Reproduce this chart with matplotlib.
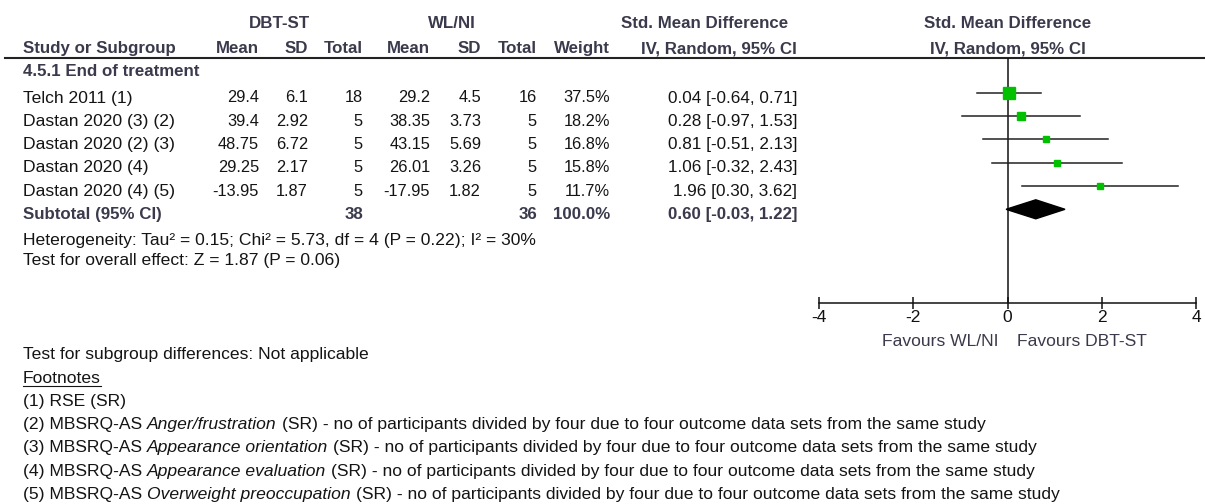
import matplotlib
matplotlib.use("Agg")
import matplotlib.pyplot as plt
from matplotlib.patches import Polygon

plt.rcParams["font.family"] = ["Liberation Sans", "DejaVu Sans"]
plt.rcParams["axes.unicode_minus"] = False

# Study level data
studies = ["Telch 2011 (1)", "Dastan 2020 (3) (2)", "Dastan 2020 (2) (3)",
           "Dastan 2020 (4)", "Dastan 2020 (4) (5)"]
dbt_mean = [29.4, 39.4, 48.75, 29.25, -13.95]
dbt_sd = [6.1, 2.92, 6.72, 2.17, 1.87]
dbt_n = [18, 5, 5, 5, 5]
wl_mean = [29.2, 38.35, 43.15, 26.01, -17.95]
wl_sd = [4.5, 3.73, 5.69, 3.26, 1.82]
wl_n = [16, 5, 5, 5, 5]
weights = [37.5, 18.2, 16.8, 15.8, 11.7]
smd = [0.04, 0.28, 0.81, 1.06, 1.96]
ci_lo = [-0.64, -0.97, -0.51, -0.32, 0.30]
ci_hi = [0.71, 1.53, 2.13, 2.43, 3.62]

# Pooled estimate
pooled = 0.60
pooled_lo = -0.03
pooled_hi = 1.22
total_dbt = 38
total_wl = 36

axis_ticks = [-4, -2, 0, 2, 4]

heterogeneity = "Heterogeneity: Tau\u00b2 = 0.15; Chi\u00b2 = 5.73, df = 4 (P = 0.22); I\u00b2 = 30%"
overall = "Test for overall effect: Z = 1.87 (P = 0.06)"
subgroup = "Test for subgroup differences: Not applicable"
tail = " (SR) - no of participants divided by four due to four outcome data sets from the same study"
footnotes = [
    [("(1) RSE (SR)", "normal")],
    [("(2) MBSRQ-AS ", "normal"), ("Anger/frustration", "italic"), (tail, "normal")],
    [("(3) MBSRQ-AS ", "normal"), ("Appearance orientation", "italic"), (tail, "normal")],
    [("(4) MBSRQ-AS ", "normal"), ("Appearance evaluation", "italic"), (tail, "normal")],
    [("(5) MBSRQ-AS ", "normal"), ("Overweight preoccupation", "italic"), (tail, "normal")],
]

W, H = 1205, 504
HDR = "#3a3a4c"
TXT = "#141414"
FS = 12.6      # running text
FS_NUM = 11.8  # numeric columns
FS_CI = 12.3
FS_B = 12.2

fig = plt.figure(figsize=(W / 100, H / 100), dpi=100)
fig.patch.set_facecolor("white")

# text layer in pixel coordinates (y grows downwards)
tx = fig.add_axes([0, 0, 1, 1])
tx.set_xlim(0, W)
tx.set_ylim(H, 0)
tx.axis("off")

LEFT = 23
cols = [259, 308, 363, 430, 481, 537, 610, 797]


def put(x, y, s, ha="left", bold=False, color=TXT, size=None, style="normal"):
    return tx.text(x, y, s, ha=ha, va="baseline", color=color,
                   fontsize=size or (FS_B if bold else FS),
                   fontweight="bold" if bold else "normal", fontstyle=style)


# header
put(279, 27.5, "DBT-ST", ha="center", bold=True, color=HDR)
put(452, 27.5, "WL/NI", ha="center", bold=True, color=HDR)
put(705, 27.5, "Std. Mean Difference", ha="center", bold=True, color=HDR)
put(1008, 27.5, "Std. Mean Difference", ha="center", bold=True, color=HDR)
put(LEFT, 53, "Study or Subgroup", bold=True, color=HDR)
for x, s in zip(cols, ["Mean", "SD", "Total", "Mean", "SD", "Total", "Weight",
                       "IV, Random, 95% CI"]):
    put(x, 53, s, ha="right", bold=True, color=HDR)
put(1008, 53, "IV, Random, 95% CI", ha="center", bold=True, color=HDR)
tx.plot([5, W], [58.3, 58.3], color="#222222", lw=1.5)

put(LEFT, 75.5, "4.5.1 End of treatment", bold=True, color=HDR)

row0 = 102.5
step = 23.3
row_base = [row0 + i * step for i in range(len(studies))]
for i, y in enumerate(row_base):
    put(LEFT, y, studies[i])
    vals = [str(dbt_mean[i]), str(dbt_sd[i]), str(dbt_n[i]),
            str(wl_mean[i]), str(wl_sd[i]), str(wl_n[i]),
            f"{weights[i]:.1f}%"]
    for x, s in zip(cols, vals):
        put(x, y, s, ha="right", size=FS_NUM)
    put(cols[7], y, f"{smd[i]:.2f} [{ci_lo[i]:.2f}, {ci_hi[i]:.2f}]",
        ha="right", size=FS_CI)

sub_y = row0 + len(studies) * step
put(LEFT, sub_y, "Subtotal (95% CI)", bold=True, color=HDR)
put(cols[2], sub_y, str(total_dbt), ha="right", bold=True, color=HDR)
put(cols[5], sub_y, str(total_wl), ha="right", bold=True, color=HDR)
put(cols[6], sub_y, f"{sum(weights):.1f}%", ha="right", bold=True, color=HDR)
put(cols[7], sub_y, f"{pooled:.2f} [{pooled_lo:.2f}, {pooled_hi:.2f}]",
    ha="right", bold=True, color=HDR)

put(LEFT, 244.5, heterogeneity)
put(LEFT, 265, overall)
put(LEFT, 358.5, subgroup)
fn = put(LEFT, 383, "Footnotes")

fig.canvas.draw()
renderer = fig.canvas.get_renderer()

# width of one space in the running text
a = tx.text(0, 0, "I I", fontsize=FS)
b = tx.text(0, 0, "II", fontsize=FS)
space_w = a.get_window_extent(renderer).width - b.get_window_extent(renderer).width
a.remove()
b.remove()

fb = fn.get_window_extent(renderer)
tx.plot([LEFT, LEFT + fb.width], [385.5, 385.5], color=TXT, lw=0.8)

fn_y = 406
for runs in footnotes:
    x = LEFT
    for s, style in runs:
        core = s.strip()
        x += space_w * (len(s) - len(s.lstrip()))
        t = put(x, fn_y, core, style=style)
        x += t.get_window_extent(renderer).width
        x += space_w * (len(s) - len(s.rstrip()))
    fn_y += 23.2

# forest plot axes; y is in the same pixel rows as the table
AX_TOP, AX_BOT = 58.3, 303.3
fx = fig.add_axes([819 / W, 1 - AX_BOT / H, 377 / W, (AX_BOT - AX_TOP) / H])
fx.set_xlim(-4, 4)
fx.set_ylim(AX_BOT, AX_TOP)
fx.patch.set_alpha(0)
for side in ["top", "left", "right"]:
    fx.spines[side].set_visible(False)
fx.spines["bottom"].set_linewidth(1.1)
fx.spines["bottom"].set_color("#111111")
fx.set_yticks([])
fx.set_xticks(axis_ticks)
fx.set_xticklabels([str(t) for t in axis_ticks])
fx.tick_params(axis="x", direction="inout", length=8.6, width=1.1,
               color="#111111", pad=0.5, labelsize=12.5, labelcolor="#111111")
fx.axvline(0, color="#111111", lw=1.1)

mark_y = [y - 9.7 for y in row_base]
for i, y in enumerate(mark_y):
    fx.plot([ci_lo[i], ci_hi[i]], [y, y], color="#222222", lw=1.1, zorder=2)
    side_px = 2.84 + 0.244 * weights[i]
    fx.plot(smd[i], y, marker="s", ms=side_px * 0.72, color="#00c000",
            mec="#00c000", zorder=3)

dy = sub_y - 9.7
fx.add_patch(Polygon([(pooled_lo, dy), (pooled, dy - 9.5), (pooled_hi, dy),
                      (pooled, dy + 9.5)], closed=True, color="black", zorder=3))

put(999, 346, "Favours WL/NI", ha="right", color=HDR)
put(1017, 346, "Favours DBT-ST", color=HDR)

fig.savefig("out.png", dpi=100, facecolor="white")
